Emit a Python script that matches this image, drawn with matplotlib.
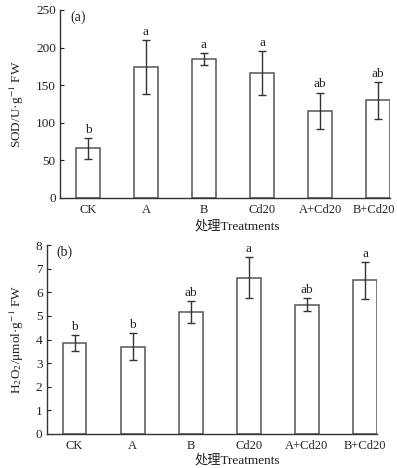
import matplotlib
matplotlib.use("Agg")
import matplotlib.pyplot as plt
import matplotlib.transforms as mtransforms

categories = ["CK", "A", "B", "Cd20", "A+Cd20", "B+Cd20"]
sod_mean = [66, 174, 185, 166, 116, 130]
sod_err = [14, 36, 8, 29.5, 24, 24.5]
sod_letters = ["b", "a", "a", "a", "ab", "ab"]
h2o2_mean = [3.87, 3.70, 5.16, 6.62, 5.48, 6.50]
h2o2_err = [0.34, 0.57, 0.47, 0.88, 0.29, 0.78]
h2o2_letters = ["b", "b", "ab", "a", "ab", "a"]
sod_ticks = [0, 50, 100, 150, 200, 250]
h2o2_ticks = [0, 1, 2, 3, 4, 5, 6, 7, 8]

plt.rcParams['font.family'] = ['Liberation Serif', 'Noto Sans CJK SC']
plt.rcParams['mathtext.fontset'] = 'stix'

W, H = 397, 468
fig = plt.figure(figsize=(W/100, H/100), dpi=100)

def axrect(l, r, t, b):
    return [l/W, 1 - b/H, (r-l)/W, (b-t)/H]

ax1 = fig.add_axes(axrect(60, 390, 10, 198))
ax2 = fig.add_axes(axrect(46.7, 377, 245, 434))

x = list(range(len(categories)))

def draw(ax, means, errs, letters, ticks, ylabel, ymax, off, panel):
    ax.bar(x, means, width=0.41, color='white', edgecolor='#555555', linewidth=1.1, zorder=2)
    ax.errorbar(x, means, yerr=errs, fmt='none', ecolor='#333333', elinewidth=1.0,
                capsize=3, capthick=1.0, zorder=3)
    for xi, m, e, L in zip(x, means, errs, letters):
        ax.text(xi, m + e + off, L, ha='center', va='bottom', fontsize=9.5, color='#222222')
    ax.set_xlim(-0.48, 5.205)
    ax.set_ylim(0, ymax)
    ax.set_yticks(ticks)
    ax.set_xticks(x)
    ax.set_xticklabels(categories)
    ax.tick_params(axis='y', direction='in', length=3, width=0.8, labelsize=9.5, pad=3, colors='#222222')
    ax.tick_params(axis='x', length=0, labelsize=9.0, pad=4, colors='#222222')
    for s in ['top', 'right']:
        ax.spines[s].set_visible(False)
    for s in ['left', 'bottom']:
        ax.spines[s].set_color('#333333')
        ax.spines[s].set_linewidth(1.0)
    ax.set_ylabel(ylabel, fontsize=9.5, labelpad=7, color='#222222')
    ax.text(0.03, 0.995, panel, transform=ax.transAxes, ha='left', va='top', fontsize=10, color='#222222')

draw(ax1, sod_mean, sod_err, sod_letters, sod_ticks, "SOD/U·g$^{-1}$ FW", 250, 3, "(a)")
draw(ax2, h2o2_mean, h2o2_err, h2o2_letters, h2o2_ticks, "H$_2$O$_2$/μmol·g$^{-1}$ FW", 8, 0.08, "(b)")

# keep the last top-panel label inside the figure
last = ax1.get_xticklabels()[-1]
last.set_transform(last.get_transform() + mtransforms.ScaledTranslation(-4/100, 0, fig.dpi_scale_trans))

fig.text(237/W, 1 - 226/H, "处理Treatments", ha='center', va='center', fontsize=9.5, color='#222222')
fig.text(237/W, 1 - 460/H, "处理Treatments", ha='center', va='center', fontsize=9.5, color='#222222')

fig.savefig("out.png", dpi=100)
